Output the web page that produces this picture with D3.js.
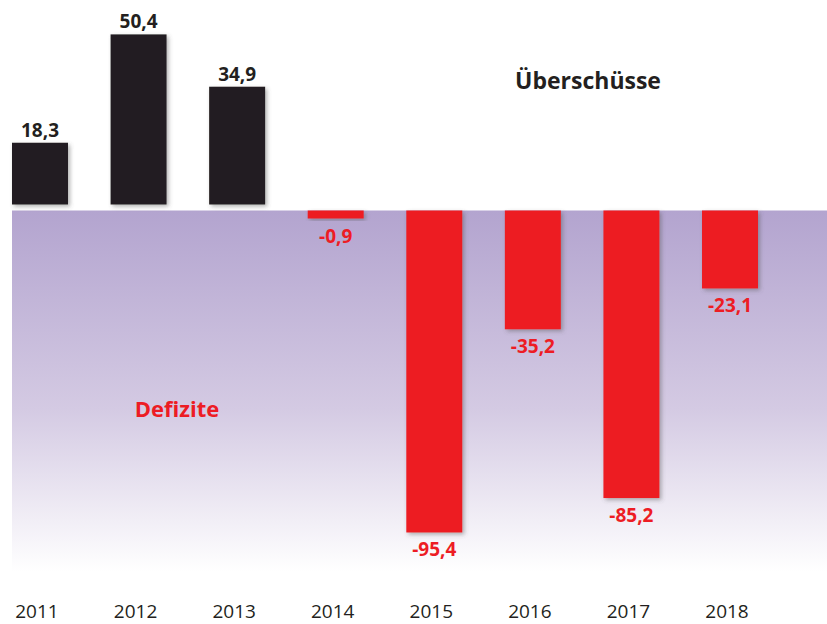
<!DOCTYPE html>
<html>
<head>
<meta charset="utf-8">
<script src="https://cdn.jsdelivr.net/npm/d3@7"></script>
<style>
  body { margin: 0; background: #fff; }
  svg { display: block; font-family: "Open Sans", "Noto Sans", sans-serif; }
</style>
</head>
<body>
<div id="chart"></div>
<script>
var years = ["2011", "2012", "2013", "2014", "2015", "2016", "2017", "2018"];
var values = [18.3, 50.4, 34.9, -0.9, -95.4, -35.2, -85.2, -23.1];
var labels = ["18,3", "50,4", "34,9", "-0,9", "-95,4", "-35,2", "-85,2", "-23,1"];

var width = 827, height = 624;
var gap = 3; // white band between surplus and deficit area

var svg = d3.select("#chart").append("svg")
    .attr("width", width)
    .attr("height", height);

var defs = svg.append("defs");

var grad = defs.append("linearGradient")
    .attr("id", "bgGrad")
    .attr("x1", 0).attr("y1", 0).attr("x2", 0).attr("y2", 1);
grad.append("stop").attr("offset", "0%").attr("stop-color", "#b3a4cf");
grad.append("stop").attr("offset", "55%").attr("stop-color", "#d4cae3");
grad.append("stop").attr("offset", "100%").attr("stop-color", "#ffffff");

var shadow = defs.append("filter")
    .attr("id", "shadow")
    .attr("x", "-20%").attr("y", "-20%")
    .attr("width", "150%").attr("height", "150%");
shadow.append("feDropShadow")
    .attr("dx", 2).attr("dy", 2)
    .attr("stdDeviation", 2)
    .attr("flood-color", "#555")
    .attr("flood-opacity", 0.45);

var xScale = d3.scaleBand()
    .domain(years)
    .range([12, 758])
    .paddingInner(0.432)
    .paddingOuter(0);

var yScale = d3.scaleLinear()
    .domain([-100, 60])
    .range([545, 5]);

var zeroY = yScale(0);

// deficit area background
svg.append("rect")
    .attr("x", 12)
    .attr("y", zeroY + gap)
    .attr("width", width - 12)
    .attr("height", yScale(-108) - zeroY - gap)
    .attr("fill", "url(#bgGrad)");

var data = years.map(function (y, i) {
    return {year: y, value: values[i], label: labels[i]};
});

svg.append("g").selectAll("rect")
    .data(data)
    .join("rect")
    .attr("x", function (d) { return xScale(d.year); })
    .attr("width", xScale.bandwidth())
    .attr("y", function (d) {
        return d.value >= 0 ? yScale(d.value) - gap : zeroY + gap;
    })
    .attr("height", function (d) {
        var h = Math.abs(yScale(d.value) - zeroY);
        return d.value >= 0 ? h : Math.max(h, 8);
    })
    .attr("fill", function (d) { return d.value >= 0 ? "#231f20" : "#ed1c24"; })
    .attr("filter", "url(#shadow)");

svg.append("g").selectAll("text")
    .data(data)
    .join("text")
    .attr("x", function (d) { return xScale(d.year) + xScale.bandwidth() / 2; })
    .attr("y", function (d) {
        if (d.value >= 0) return yScale(d.value) - gap - 6;
        var h = Math.max(yScale(d.value) - zeroY, 8);
        return zeroY + gap + h + 24;
    })
    .attr("text-anchor", "middle")
    .style("font-size", "19px")
    .style("font-weight", "bold")
    .style("fill", function (d) { return d.value >= 0 ? "#231f20" : "#ed1c24"; })
    .text(function (d) { return d.label; });

// year labels
var xAxis = d3.axisBottom(xScale).tickSize(0).tickPadding(0);
var xAxisGroup = svg.append("g")
    .attr("transform", "translate(-3, 604)")
    .call(xAxis);
xAxisGroup.select(".domain").remove();
xAxisGroup.selectAll("text")
    .attr("dy", "0.75em")
    .style("font-family", "'Open Sans', 'Noto Sans', sans-serif")
    .style("font-size", "19px")
    .style("fill", "#231f20");

svg.append("text")
    .attr("x", 588)
    .attr("y", 89)
    .attr("text-anchor", "middle")
    .style("font-size", "23px")
    .style("font-weight", "bold")
    .style("fill", "#231f20")
    .text("Überschüsse");

svg.append("text")
    .attr("x", 177)
    .attr("y", 417)
    .attr("text-anchor", "middle")
    .style("font-size", "22px")
    .style("font-weight", "bold")
    .style("fill", "#ed1c24")
    .text("Defizite");
</script>
</body>
</html>
